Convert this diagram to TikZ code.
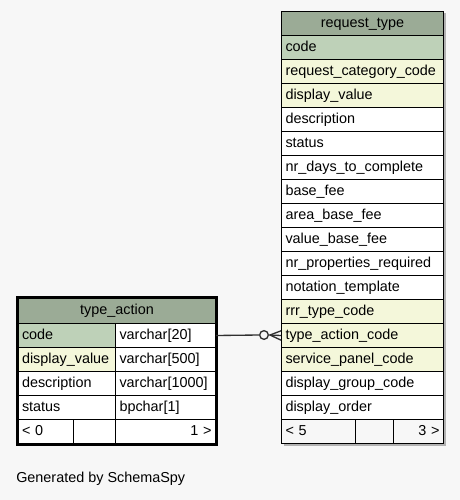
\documentclass[tikz,border=0pt]{standalone}
\usepackage{fontspec}
\setmainfont{Liberation Sans}
\definecolor{bg}{HTML}{F7F7F7}
\definecolor{hd}{HTML}{9BAB96}
\definecolor{pk}{HTML}{BED1B8}
\definecolor{fk}{HTML}{F4F7DA}
\definecolor{ln}{HTML}{303030}
\begin{document}
\begin{tikzpicture}[x=0.75pt,y=-0.75pt,
  every node/.style={font=\fontsize{10.8}{12}\selectfont},
  cell/.style={draw=black, line width=0.75pt, anchor=north west, inner xsep=3pt, inner ysep=0pt,
    minimum height=18pt, text height=8.3pt, text depth=1.9pt, align=left},
  hcell/.style={cell, fill=hd, align=center},
  rcell/.style={cell, align=right},
  conn/.style={ln, line width=1pt}]
\useasboundingbox (0,0) rectangle (460,500);
\fill[bg] (0,0) rectangle (460,500);
% request_type
\fill[gray!60] (283.5,13) rectangle (445.5,445.5);
\node[hcell, text width=115.5pt] (rth) at (281,11) {request\_type};
\foreach \t/\c [count=\i] in {code/pk, request\_category\_code/fk, display\_value/fk, description/white,
  status/white, nr\_days\_to\_complete/white, base\_fee/white, area\_base\_fee/white, value\_base\_fee/white,
  nr\_properties\_required/white, notation\_template/white, rrr\_type\_code/fk, type\_action\_code/fk,
  service\_panel\_code/fk, display\_group\_code/white, display\_order/white}
  \node[cell, fill=\c, text width=115.5pt] (rt\i) at ({281},{35+24*(\i-1)}) {\t};
\node[cell, fill=bg, text width=49.5pt] (rtf1) at (281,419) {< 5};
\node[cell, fill=bg, text width=22.5pt] (rtf2) at (355,419) {};
\node[rcell, fill=bg, text width=31.5pt] (rtf3) at (393,419) {3 >};
% type_action
\node[hcell, text width=142.5pt, minimum height=19.5pt] (tah) at (17.5,297) {type\_action};
\foreach \a/\b/\c [count=\i] in {code/varchar[20]/pk, display\_value/varchar[500]/fk,
  description/varchar[1000]/white, status/bpchar[1]/white}
{
  \node[cell, fill=\c, text width=67.125pt] (tal\i) at ({17.5},{323+24*(\i-1)}) {\a};
  \node[cell, fill=white, text width=69pt] (tar\i) at ({115},{323+24*(\i-1)}) {\b};
}
\node[cell, fill=white, text width=35.625pt] (taf1) at (17.5,419) {< 0};
\node[cell, fill=white, text width=25.5pt] (taf2) at (73,419) {};
\node[rcell, fill=white, text width=69pt] (taf3) at (115,419) {1 >};
\draw[black, line width=2.25pt] (tah.north west) rectangle (taf3.south east);
% connector
\node[circle, draw=ln, fill=bg, line width=1pt, minimum size=6.5pt, inner sep=0pt] (crc) at (264,335) {};
\coordinate (cf) at (270,335);
\draw[conn] (tar1.east) -- (crc.west);
\draw[conn] (crc.east) -- (rt13.west);
\draw[conn] (cf) -- ([yshift=3.5pt]rt13.west);
\draw[conn] (cf) -- ([yshift=-3.5pt]rt13.west);
\node[anchor=west, inner sep=0pt] (gen) at (16,479) {Generated by SchemaSpy};
\end{tikzpicture}
\end{document}
